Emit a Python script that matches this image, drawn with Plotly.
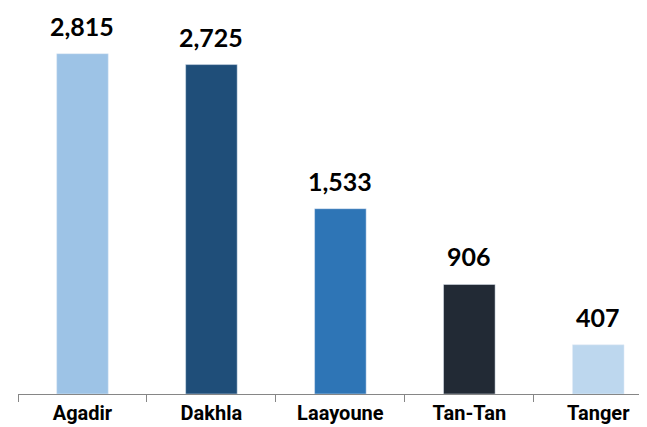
import plotly.graph_objects as go

cities = ["Agadir", "Dakhla", "Laayoune", "Tan-Tan", "Tanger"]
values = [2815, 2725, 1533, 906, 407]
colors = ["#9DC3E6", "#1F4E79", "#2E75B6", "#222A35", "#BDD7EE"]

fig = go.Figure(go.Bar(x=cities, y=values, marker_color=colors, width=0.4))

for c, v in zip(cities, values):
    fig.add_annotation(x=c, y=v, text=f"{v:,}", showarrow=False,
                       yanchor="bottom", yshift=11,
                       font=dict(family="Lato", size=25, color="black", weight="bold"))

fig.update_layout(
    width=647, height=427,
    margin=dict(l=10, r=0, t=0, b=41),
    plot_bgcolor="white", paper_bgcolor="white",
    showlegend=False,
    xaxis=dict(range=[-0.5, 4.44], showline=True, linecolor="#868686", linewidth=1,
               ticks="outside", tickson="boundaries", ticklen=7, tickcolor="#868686",
               automargin=False, ticklabelstandoff=1,
               tickfont=dict(family="Roboto", size=20,
                             color="black", weight="bold")),
    yaxis=dict(range=[0, 3193], visible=False, showgrid=False),
)

fig.write_html("out.html")
